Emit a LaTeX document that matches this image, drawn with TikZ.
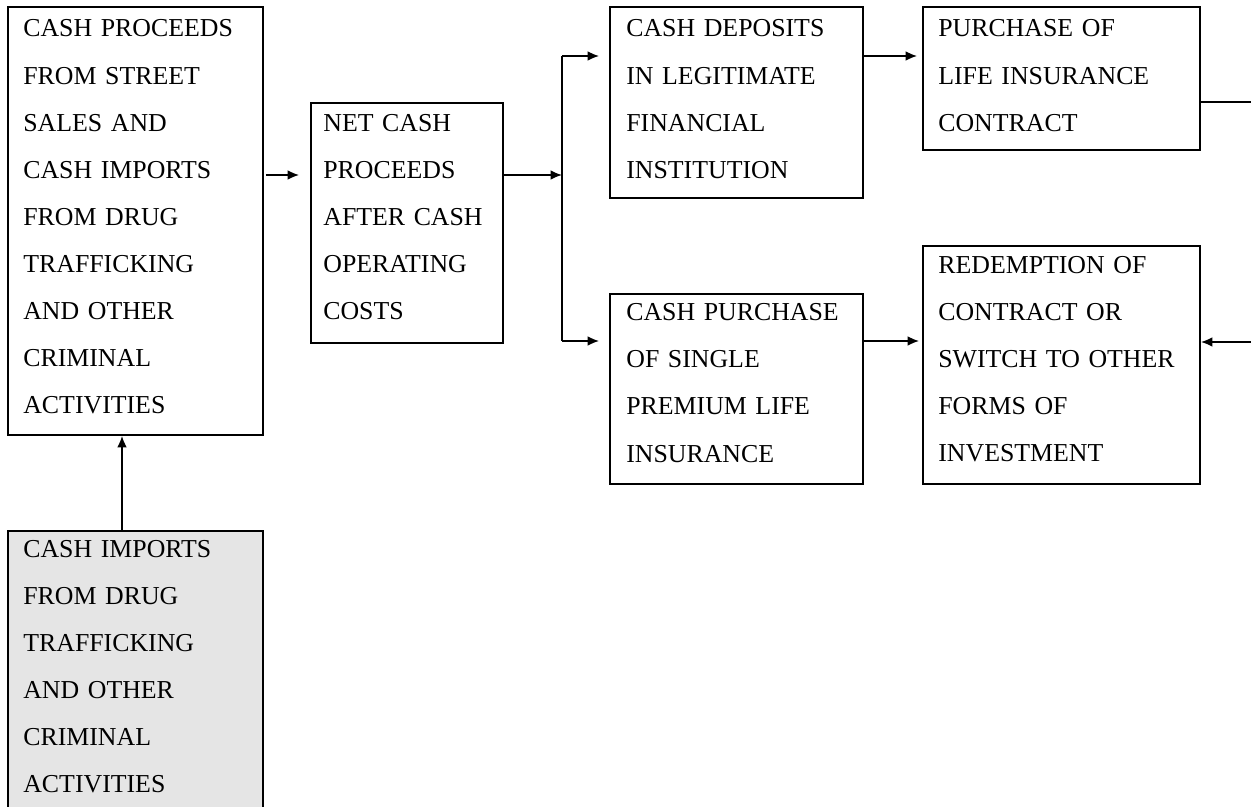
\documentclass[tikz,border=0pt]{standalone}
\usepackage{fontspec}
\setmainfont{Liberation Serif}
\usetikzlibrary{arrows.meta}
\begin{document}
\begin{tikzpicture}[
    x=0.02cm, y=-0.02cm,
    >={Latex[length=6.5pt,width=5.5pt]},
    font=\fontsize{14.7}{26.8}\selectfont,
    box/.style={draw, line width=1.1pt, inner sep=0pt},
    lab/.style={anchor=base west, align=left, inner sep=0pt, text width=#1},
    lab/.default=5cm,
    link/.style={->, line width=0.9pt}
  ]
    \useasboundingbox (0,0) rectangle (1251,807);

    % boxes
    \node[box, minimum width=5.10cm, minimum height=8.56cm] (A) at (135.5,221) {};
    \node[box, fill=black!10, minimum width=5.10cm, minimum height=5.64cm] (G) at (135.5,672) {};
    \node[box, minimum width=3.84cm, minimum height=4.80cm] (N) at (407,223) {};
    \node[box, minimum width=5.06cm, minimum height=3.82cm] (D) at (736.5,102.5) {};
    \node[box, minimum width=5.06cm, minimum height=3.80cm] (P) at (736.5,389) {};
    \node[box, minimum width=5.54cm, minimum height=2.86cm] (L) at (1061.5,78.5) {};
    \node[box, minimum width=5.54cm, minimum height=4.76cm] (R) at (1061.5,365) {};

    % texts
    \node[lab] (Atext) at (23,37) {CASH PROCEEDS\\FROM STREET\\SALES AND\\CASH IMPORTS\\FROM DRUG\\TRAFFICKING\\AND OTHER\\CRIMINAL\\ACTIVITIES};
    \node[lab] (Gtext) at (23,557.3) {CASH IMPORTS\\FROM DRUG\\TRAFFICKING\\AND OTHER\\CRIMINAL\\ACTIVITIES};
    \node[lab=3.5cm] (Ntext) at (323,131.6) {NET CASH\\PROCEEDS\\AFTER CASH\\OPERATING\\COSTS};
    \node[lab] (Dtext) at (626,37) {CASH DEPOSITS\\IN LEGITIMATE\\FINANCIAL\\INSTITUTION};
    \node[lab] (Ptext) at (626,320.8) {CASH PURCHASE\\OF SINGLE\\PREMIUM LIFE\\INSURANCE};
    \node[lab] (Ltext) at (938,37) {PURCHASE OF\\LIFE INSURANCE\\CONTRACT};
    \node[lab] (Rtext) at (938,273.5) {REDEMPTION OF\\CONTRACT OR\\SWITCH TO OTHER\\FORMS OF\\INVESTMENT};

    % connectors
    \coordinate (fork) at (562,175);
    \coordinate (up) at (562,56);
    \coordinate (down) at (562,341);
    \coordinate (lout) at (1251,102);
    \coordinate (rin) at (1251,342);

    \draw[link, shorten <=0.04cm, shorten >=0.22cm] (A.east |- fork) -- (N.west |- fork);
    \draw[link] (N.east |- fork) -- (fork);
    \draw[line width=0.9pt] (up) -- (down);
    \draw[link, shorten >=0.2cm] (up) -- (D.west |- up);
    \draw[link, shorten >=0.2cm] (down) -- (P.west |- down);
    \draw[link, shorten >=0.1cm] (D.east |- up) -- (L.west |- up);
    \draw[link, shorten >=0.06cm] (P.east |- down) -- (R.west |- down);
    \draw[line width=0.9pt] (L.east |- lout) -- (lout);
    \draw[link] (rin) -- (R.east |- rin);
    \draw[link] ([xshift=-0.27cm]G.north) -- ([xshift=-0.27cm]A.south);
\end{tikzpicture}
\end{document}
